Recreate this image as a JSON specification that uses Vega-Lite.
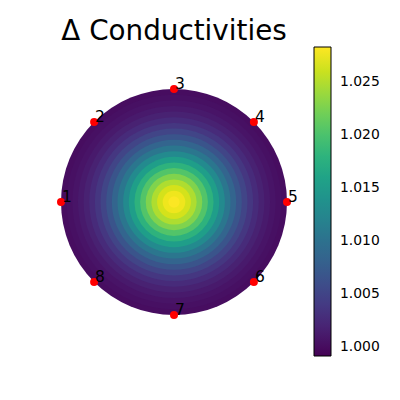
{
  "$schema": "https://vega.github.io/schema/vega-lite/v6.json",
  "autosize": "none",
  "width": 240,
  "height": 240,
  "padding": {"left": 54, "top": 82, "right": 106, "bottom": 78},
  "background": "white",
  "config": {"view": {"stroke": null}, "font": "DejaVu Sans"},
  "title": {"text": "Δ Conductivities", "fontSize": 27.8, "font": "DejaVu Sans", "fontWeight": "normal", "color": "black", "frame": "group", "anchor": "middle", "baseline": "alphabetic", "offset": -21},
  "datasets": {
    "rings": [
      {"r": 1.00, "v": 1.00002},
      {"r": 0.95, "v": 1.00028},
      {"r": 0.90, "v": 1.00064},
      {"r": 0.85, "v": 1.00113},
      {"r": 0.80, "v": 1.00178},
      {"r": 0.75, "v": 1.00263},
      {"r": 0.70, "v": 1.00371},
      {"r": 0.65, "v": 1.00504},
      {"r": 0.60, "v": 1.00664},
      {"r": 0.55, "v": 1.00850},
      {"r": 0.50, "v": 1.01061},
      {"r": 0.45, "v": 1.01294},
      {"r": 0.40, "v": 1.01541},
      {"r": 0.35, "v": 1.01794},
      {"r": 0.30, "v": 1.02043},
      {"r": 0.25, "v": 1.02276},
      {"r": 0.20, "v": 1.02481},
      {"r": 0.15, "v": 1.02646},
      {"r": 0.10, "v": 1.02762},
      {"r": 0.05, "v": 1.02822}
    ],
    "electrodes": [
      {"id": "1", "x": -1, "y": 0},
      {"id": "2", "x": -0.7071, "y": 0.7071},
      {"id": "3", "x": 0, "y": 1},
      {"id": "4", "x": 0.7071, "y": 0.7071},
      {"id": "5", "x": 1, "y": 0},
      {"id": "6", "x": 0.7071, "y": -0.7071},
      {"id": "7", "x": 0, "y": -1},
      {"id": "8", "x": -0.7071, "y": -0.7071}
    ]
  },
  "layer": [
    {
      "data": {"name": "rings"},
      "mark": {"type": "arc", "theta": 0, "theta2": 6.2832},
      "encoding": {
        "radius": {"field": "r", "type": "quantitative", "stack": null, "scale": {"type": "linear", "domain": [0, 1], "range": [0, 113], "zero": true}},
        "color": {
          "field": "v", "type": "quantitative",
          "scale": {"type": "linear", "domain": [0.99915, 1.0283], "scheme": "viridis"},
          "legend": {
            "orient": "none", "legendX": 260, "legendY": -35,
            "direction": "vertical", "title": null,
            "gradientLength": 309, "gradientThickness": 17,
            "gradientStrokeColor": "black", "gradientStrokeWidth": 1,
            "values": [1.0, 1.005, 1.01, 1.015, 1.02, 1.025],
            "format": ".3f", "labelFontSize": 13.9, "labelFont": "DejaVu Sans",
            "labelColor": "black", "labelOffset": 9, "labelOverlap": false
          }
        }
      }
    },
    {
      "data": {"name": "electrodes"},
      "mark": {"type": "circle", "size": 64, "color": "red", "opacity": 1},
      "encoding": {
        "x": {"field": "x", "type": "quantitative", "scale": {"domain": [-1.0619, 1.0619], "nice": false, "zero": false}, "axis": null},
        "y": {"field": "y", "type": "quantitative", "scale": {"domain": [-1.0619, 1.0619], "nice": false, "zero": false}, "axis": null}
      }
    },
    {
      "data": {"name": "electrodes"},
      "mark": {"type": "text", "align": "left", "baseline": "alphabetic", "dx": 1, "fontSize": 15.5, "font": "DejaVu Sans", "color": "black"},
      "encoding": {
        "x": {"field": "x", "type": "quantitative"},
        "y": {"field": "y", "type": "quantitative"},
        "text": {"field": "id"}
      }
    }
  ]
}
